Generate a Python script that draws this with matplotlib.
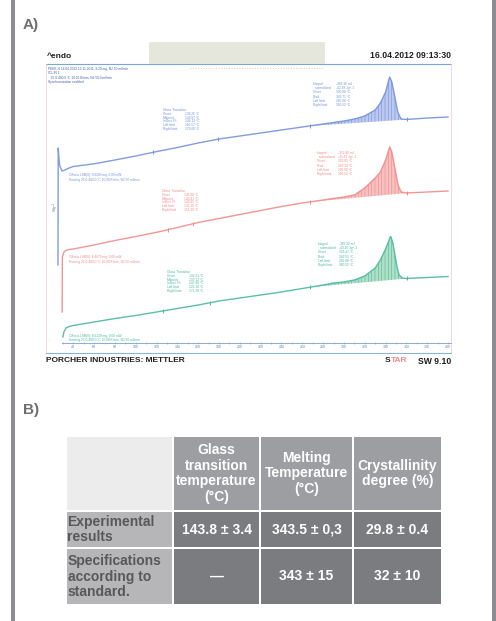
import numpy as np
import matplotlib.pyplot as plt
from matplotlib.patches import Rectangle

plt.rcParams['font.family'] = ['Liberation Sans', 'DejaVu Sans']
plt.rcParams['hatch.linewidth'] = 0.4

# DSC heating runs: temperature (°C) and heat flow (W/g, stacked with offsets)
temp_blue = [25.3, 25.5, 26.8, 29, 32, 36, 40, 60, 80, 100, 120, 140, 160, 180, 200, 220,
             240, 260, 280, 290, 300, 310, 320, 330, 335, 340, 343, 344, 346, 348, 350, 352,
             355, 360, 380, 400]
hf_blue = [7.8, 19.5, 17.8, 17.2, 17.3, 17.5, 17.65, 17.92, 18.3, 18.7, 19.14, 19.55, 20.0,
           20.4, 20.7, 21.0, 21.3, 21.6, 21.9, 22.05, 22.2, 22.4, 22.7, 23.3, 24.0, 25.1,
           26.3, 26.6, 26.1, 25.1, 24.0, 23.0, 22.4, 22.35, 22.5, 22.6]

temp_red = [29.3, 29.5, 31, 33, 36, 40, 60, 80, 100, 120, 140, 160, 180, 200, 220, 240, 260,
            280, 290, 300, 310, 320, 330, 335, 340, 343, 344, 346, 348, 350, 352, 355, 360,
            380, 400]
hf_red = [3.1, 8.6, 9.1, 9.25, 9.35, 9.4, 9.8, 10.25, 10.65, 11.07, 11.55, 12.05, 12.45,
          12.85, 13.25, 13.65, 14.0, 14.3, 14.45, 14.6, 14.8, 15.5, 16.5, 17.1, 18.3, 19.3,
          19.6, 19.1, 18.0, 16.9, 15.8, 15.1, 15.0, 15.1, 15.2]

temp_green = [30, 31, 33, 36, 40, 60, 80, 100, 120, 140, 160, 180, 200, 220, 240, 260, 280,
              290, 300, 310, 320, 330, 335, 340, 343, 344, 345, 347, 349, 351, 353, 356, 360,
              380, 400]
hf_green = [0.6, 1.1, 1.5, 1.65, 1.75, 2.1, 2.45, 2.75, 3.1, 3.45, 3.8, 4.2, 4.5, 4.8, 5.1,
            5.45, 5.8, 6.0, 6.1, 6.3, 6.7, 7.5, 8.3, 9.4, 10.2, 10.5, 10.65, 10.0, 8.8, 7.6,
            6.8, 6.5, 6.45, 6.55, 6.65]

tg_limits = [[116.6, 179.0], [131.2, 155.3], [126.1, 171.3]]
peak_limits = [266.98, 360.5]

tg_labels = ["Glass Transition", "Onset", "Midpoint", "Inflect. Pt.", "Left limit", "Right limit"]
tg_values = [["", "139.26 °C", "143.87 °C", "144.12 °C", "116.57 °C", "179.00 °C"],
             ["", "136.88 °C", "140.41 °C", "140.95 °C", "131.20 °C", "155.30 °C"],
             ["", "142.31 °C", "147.12 °C", "147.40 °C", "126.10 °C", "171.30 °C"]]
peak_labels = ["Integral", "  normalized", "Onset", "Peak", "Left limit", "Right limit"]
peak_values = [["-383.16 mJ", "-42.48 Jg^-1", "330.80 °C", "343.71 °C", "266.98 °C", "360.52 °C"],
               ["-352.40 mJ", "-41.62 Jg^-1", "331.05 °C", "343.24 °C", "266.98 °C", "360.52 °C"],
               ["-366.92 mJ", "-43.10 Jg^-1", "331.47 °C", "343.55 °C", "266.98 °C", "360.52 °C"]]
offset_notes = [["Offsets LSB(0): 9.0200 mg, 0.00 mW", "Heating 25.0-400.0 °C 10.00 K/min, N2 50 ml/min"],
                ["Offsets LSB(0): 8.4670 mg, 0.00 mW", "Heating 25.0-400.0 °C 10.00 K/min, N2 50 ml/min"],
                ["Offsets LSB(0): 8.5130 mg, 0.00 mW", "Heating 25.0-400.0 °C 10.00 K/min, N2 50 ml/min"]]
header_notes = ["PEEK-H 16.04.2012 13.11.2011, 9.20 mg, N2 50 ml/min",
                "ICL IN 1",
                "   25.0-400.0 °C 10.00 K/min, N2 50.0 ml/min",
                "Synchronization enabled"]
temp_ticks = list(range(40, 401, 20))

# summary table
col_headers = ["Glass\ntransition\ntemperature\n(°C)", "Melting\nTemperature\n(°C)",
               "Crystallinity\ndegree (%)"]
row_labels = ["Experimental\nresults", "Specifications\naccording to\nstandard."]
cell_values = [["143.8 ± 3.4", "343.5 ± 0,3", "29.8 ± 0.4"],
               ["—", "343 ± 15", "32 ± 10"]]

fig = plt.figure(figsize=(4.96, 6.21), dpi=100)
bg = fig.add_axes([0, 0, 1, 1])
bg.set_xlim(0, 496)
bg.set_ylim(621, 0)
bg.axis('off')

for x0 in (11, 492):
    bg.add_patch(Rectangle((x0, 0), 4, 621, color='#8c8d92', lw=0))
bg.text(23, 25, 'A)', fontsize=11, fontweight='bold', color='#6e6e72', va='center')
bg.text(23, 410, 'B)', fontsize=11, fontweight='bold', color='#6e6e72', va='center')

# instrument printout frame
bg.plot([46, 451], [64, 64], color='#7aa6d6', lw=0.8)
bg.add_patch(Rectangle((149, 42), 176, 22, color='#e6e7dc', lw=0, zorder=3))
bg.plot([190, 323], [68, 68], color='#f2bcbc', lw=0.7, ls=':')
bg.plot([46, 46], [64, 353], color='#f0d2d2', lw=0.6)
bg.plot([451, 451], [64, 353], color='#f0d2d2', lw=0.6)
bg.plot([46, 451], [353, 353], color='#8ab4d8', lw=0.8)
bg.text(47, 56, '^endo', fontsize=6, fontweight='bold', color='#202020', va='center')
bg.text(451, 56, '16.04.2012 09:13:30', fontsize=6.2, fontweight='bold', color='#202020',
        va='center', ha='right')
bg.text(46, 361, 'PORCHER INDUSTRIES: METTLER', fontsize=6, fontweight='bold',
        color='#202020', va='center')
bg.text(385, 361, 'S', fontsize=6, fontweight='bold', color='#202020', va='center')
bg.text(391, 361, 'TAR', fontsize=6, fontweight='bold', color='#f08a8a', va='center')
bg.text(451, 361, 'SW 9.10', fontsize=6.2, fontweight='bold', color='#202020',
        va='center', ha='right')

ax = fig.add_axes([46 / 496, 1 - 343 / 621, 405 / 496, 279 / 621])
ax.patch.set_alpha(0)
ax.set_xlim(13.78, 402.83)
ax.set_ylim(0, 27.9)
for side in ('top', 'left', 'right'):
    ax.spines[side].set_visible(False)
ax.spines['bottom'].set_color('#7aa0c8')
ax.spines['bottom'].set_linewidth(0.6)
ax.spines['bottom'].set_bounds(29, 402.8)
ax.set_yticks([])
ax.set_xticks(temp_ticks)
ax.set_xticks(range(30, 401, 10), minor=True)
ax.tick_params(axis='x', which='both', direction='inout', length=1.6, width=0.4,
               color='#7aa0c8', labelsize=2.6, labelcolor='#5f86c0', pad=1)

curves = [(temp_blue, hf_blue, '#7392dc', '#bcc8ee'),
          (temp_red, hf_red, '#f08a8a', '#f7c0c0'),
          (temp_green, hf_green, '#48b89c', '#b0dfc6')]
tg_pos = [(126.2, 147.3, 23.5), (125.2, 146.3, 15.4), (130.0, 151.0, 7.3)]
peak_pos = [(270.2, 292.4, 26.1), (274.0, 294.3, 19.2), (275.0, 295.0, 10.1)]
note_pos = [17.0, 8.8, 0.95]

for i, (t, hf, c, fc) in enumerate(curves):
    t = np.array(t)
    hf = np.array(hf)
    ax.plot(t, hf, color=c, lw=1.0, alpha=0.9, zorder=3)

    lo, hi = peak_limits
    seg_t = np.concatenate([[lo], t[(t > lo) & (t < hi)], [hi]])
    seg_hf = np.interp(seg_t, t, hf)
    base = np.interp(seg_t, [lo, hi], np.interp([lo, hi], t, hf))
    ax.fill_between(seg_t, base, seg_hf, where=seg_hf >= base, interpolate=True,
                    facecolor=fc, edgecolor=c, hatch='|||||', lw=0, zorder=2)

    marks = tg_limits[i] + peak_limits
    ax.plot(marks, np.interp(marks, t, hf), ls='none', marker='|', ms=3.5, mew=0.7,
            color=c, zorder=4)

    xl, xv, yt = tg_pos[i]
    for k, (lab, val) in enumerate(zip(tg_labels, tg_values[i])):
        ax.text(xl, yt - k * 0.38, lab, fontsize=2.3, color=c, va='top')
        ax.text(xv, yt - k * 0.38, val, fontsize=2.3, color=c, va='top')
    xl, xv, yt = peak_pos[i]
    for k, (lab, val) in enumerate(zip(peak_labels, peak_values[i])):
        ax.text(xl, yt - k * 0.42, lab, fontsize=2.3, color=c, va='top')
        ax.text(xv, yt - k * 0.42, val, fontsize=2.3, color=c, va='top')
    for k, line in enumerate(offset_notes[i]):
        ax.text(35.9, note_pos[i] - k * 0.45, line, fontsize=2.3, color=c, va='top')

for k, line in enumerate(header_notes):
    ax.text(15.7, 27.6 - k * 0.42, line, fontsize=2.3, color='#4060a8', va='top')
ax.text(18.5, 13.6, 'Wg$^{-1}$', fontsize=2.6, color='#6080b0', rotation=90, va='center')

# table B
col_x = [(67, 172), (174, 259), (261, 352), (354, 441)]
row_y = [(437, 510), (512, 547), (549, 604)]

x0, x1 = col_x[0]
y0, y1 = row_y[0]
bg.add_patch(Rectangle((x0, y0), x1 - x0, y1 - y0, color='#ececec', lw=0))
for j, head in enumerate(col_headers):
    x0, x1 = col_x[j + 1]
    bg.add_patch(Rectangle((x0, y0), x1 - x0, y1 - y0, color='#9d9ea2', lw=0))
    bg.text((x0 + x1) / 2, (y0 + y1) / 2, head, fontsize=10, fontweight='bold',
            color='white', ha='center', va='center', multialignment='center',
            linespacing=1.15)

for r, lab in enumerate(row_labels):
    y0, y1 = row_y[r + 1]
    x0, x1 = col_x[0]
    bg.add_patch(Rectangle((x0, y0), x1 - x0, y1 - y0, color='#b6b6b9', lw=0))
    bg.text(x0 + 0.5, (y0 + y1) / 2, lab, fontsize=10, fontweight='bold', color='#58585b',
            ha='left', va='center', linespacing=1.15)
    for j, val in enumerate(cell_values[r]):
        x0, x1 = col_x[j + 1]
        bg.add_patch(Rectangle((x0, y0), x1 - x0, y1 - y0, color='#7b7c80', lw=0))
        bg.text((x0 + x1) / 2, (y0 + y1) / 2, val, fontsize=10, fontweight='bold',
                color='white', ha='center', va='center')

fig.savefig('out.png', dpi=100)
